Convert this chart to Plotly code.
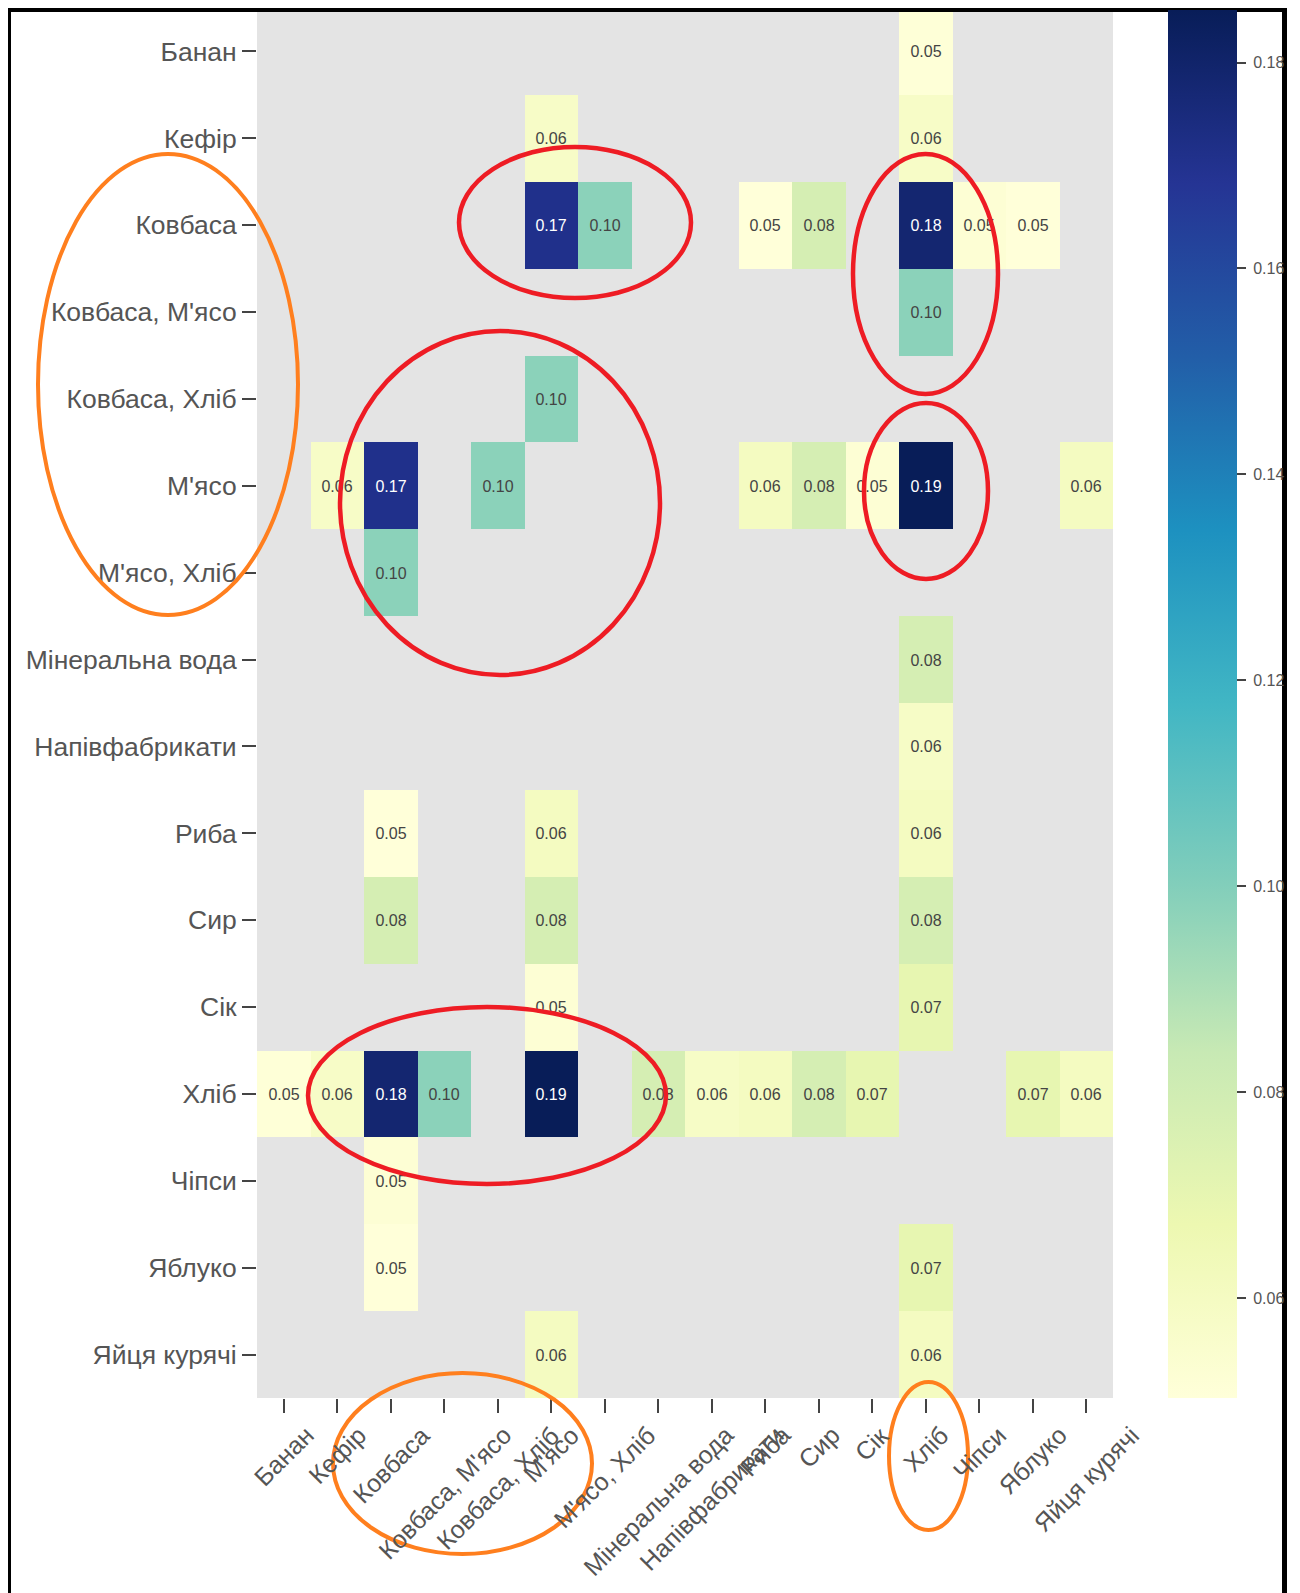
import plotly.graph_objects as go

items = ["Банан", "Кефір", "Ковбаса", "Ковбаса, М'ясо", "Ковбаса, Хліб", "М'ясо",
         "М'ясо, Хліб", "Мінеральна вода", "Напівфабрикати", "Риба", "Сир", "Сік",
         "Хліб", "Чіпси", "Яблуко", "Яйця курячі"]

N = None
# rows (antecedents) x columns (consequents)
z_values = [
    [N, N, N, N, N, N, N, N, N, N, N, N, 0.0513, N, N, N],                                   # Банан
    [N, N, N, N, N, 0.0577, N, N, N, N, N, N, 0.0577, N, N, N],                              # Кефір
    [N, N, N, N, N, 0.1709, 0.0980, N, N, 0.0503, 0.0779, N, 0.1784, 0.0523, 0.0503, N],     # Ковбаса
    [N, N, N, N, N, N, N, N, N, N, N, N, 0.0980, N, N, N],                                   # Ковбаса, М'ясо
    [N, N, N, N, N, 0.0980, N, N, N, N, N, N, N, N, N, N],                                   # Ковбаса, Хліб
    [N, 0.0577, 0.1709, N, 0.0980, N, N, N, N, 0.0603, 0.0779, 0.0523, 0.1851, N, N, 0.0603],# М'ясо
    [N, N, 0.0980, N, N, N, N, N, N, N, N, N, N, N, N, N],                                   # М'ясо, Хліб
    [N, N, N, N, N, N, N, N, N, N, N, N, 0.0779, N, N, N],                                   # Мінеральна вода
    [N, N, N, N, N, N, N, N, N, N, N, N, 0.0583, N, N, N],                                   # Напівфабрикати
    [N, N, 0.0503, N, N, 0.0603, N, N, N, N, N, N, 0.0603, N, N, N],                         # Риба
    [N, N, 0.0779, N, N, 0.0779, N, N, N, N, N, N, 0.0779, N, N, N],                         # Сир
    [N, N, N, N, N, 0.0523, N, N, N, N, N, N, 0.0698, N, N, N],                              # Сік
    [0.0513, 0.0577, 0.1784, 0.0980, N, 0.1851, N, 0.0779, 0.0583, 0.0603, 0.0779, 0.0698, N, N, 0.0698, 0.0603],  # Хліб
    [N, N, 0.0523, N, N, N, N, N, N, N, N, N, N, N, N, N],                                   # Чіпси
    [N, N, 0.0503, N, N, N, N, N, N, N, N, N, 0.0698, N, N, N],                              # Яблуко
    [N, N, N, N, N, 0.0603, N, N, N, N, N, N, 0.0603, N, N, N],                              # Яйця курячі
]

colorbar_ticks = [0.06, 0.08, 0.10, 0.12, 0.14, 0.16, 0.18]

# hand-drawn highlight ellipses (page-pixel bounding boxes: x0, y0, x1, y1)
red_ellipses = [(459, 147, 691, 298), (853, 154, 998, 394), (340, 331, 660, 675),
                (864, 403, 988, 579), (308, 1007, 666, 1184)]
orange_ellipses = [(38, 154, 298, 615), (333, 1373, 592, 1554), (889, 1382, 968, 1530)]

OFF = 8  # page offset of the plot div
W, H = 1300 - OFF, 1593 - OFF
L, R, T, B = 257 - OFF, 1113 - OFF, 8 - OFF, 1398 - OFF  # plot area in figure px

def px(x_page):
    return (x_page - OFF - L) / (R - L)

def py(y_page):
    return (B - (y_page - OFF)) / (B - T)

FONT = "Liberation Sans, Arial, sans-serif"
GREY = "#555555"

fig = go.Figure(go.Heatmap(
    z=z_values, x=items, y=items,
    colorscale="YlGnBu", zmin=0.0503, zmax=0.1851,
    texttemplate="%{z:.2f}", textfont=dict(size=16, family=FONT),
    hoverongaps=False,
    colorbar=dict(
        thickness=69, thicknessmode="pixels",
        len=(1398 - 10) / (1398 - 8), lenmode="fraction",
        x=px(1168), xanchor="left", y=py(10), yanchor="top",
        outlinewidth=0, xpad=0, ypad=0,
        tickvals=colorbar_ticks,
        ticktext=["\u00a0" + f"{v:.2f}" for v in colorbar_ticks],
        ticks="outside", ticklen=9, tickwidth=2, tickcolor="#444",
        tickfont=dict(size=16, color=GREY, family=FONT),
    ),
))

shapes = []
for (x0, y0, x1, y1) in red_ellipses:
    shapes.append(dict(type="circle", xref="paper", yref="paper",
                       x0=px(x0), x1=px(x1), y0=py(y1), y1=py(y0),
                       line=dict(color="#ee1c24", width=4.5), layer="above"))
for (x0, y0, x1, y1) in orange_ellipses:
    shapes.append(dict(type="circle", xref="paper", yref="paper",
                       x0=px(x0), x1=px(x1), y0=py(y1), y1=py(y0),
                       line=dict(color="#ff7f1e", width=4), layer="above"))
# outer black frame (left, top, right edges)
frame = [((9.5, 8), (9.5, 1600), 3), ((8, 10), (1287, 10), 4), ((1284.5, 8), (1284.5, 1600), 5)]
for (a, b, w) in frame:
    shapes.append(dict(type="line", xref="paper", yref="paper",
                       x0=px(a[0]), y0=py(a[1]), x1=px(b[0]), y1=py(b[1]),
                       line=dict(color="black", width=w), layer="above"))

# x tick labels, centred under their ticks like the rotated matplotlib labels
annotations = [dict(x=name, xref="x", y=0, yref="paper", text=name, showarrow=False,
                    textangle=-45, xanchor="center", yanchor="top", yshift=-20,
                    font=dict(size=25, color=GREY, family=FONT))
               for name in items]

fig.update_layout(
    width=W, height=H,
    margin=dict(l=L, r=W - R, t=T, b=H - B, pad=0),
    paper_bgcolor="white", plot_bgcolor="#e4e4e4",
    font=dict(family=FONT, color=GREY),
    shapes=shapes, annotations=annotations,
    xaxis=dict(type="category", range=[-0.5, len(items) - 0.5], autorange=False,
               ticks="outside", ticklen=14, tickwidth=2,
               tickcolor="#444", showticklabels=False, showgrid=False,
               zeroline=False, showline=False),
    yaxis=dict(type="category", range=[len(items) - 0.5, -0.5], autorange=False,
               ticks="outside", ticklen=14, tickwidth=2,
               tickcolor="#444", tickfont=dict(size=26.5, color=GREY), showgrid=False,
               zeroline=False, showline=False),
)

fig.write_html("out.html")
